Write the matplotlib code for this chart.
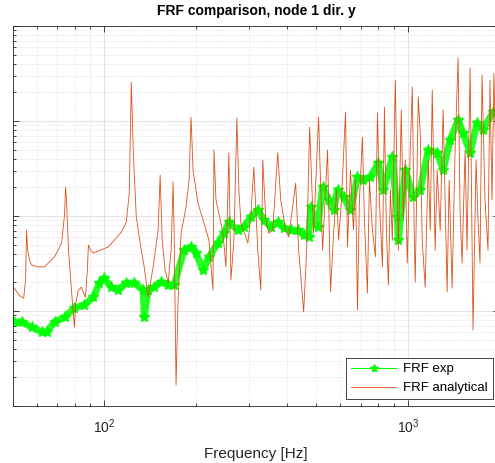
import numpy as np
import matplotlib
matplotlib.use("Agg")
import matplotlib.pyplot as plt
from matplotlib.lines import Line2D
from matplotlib.ticker import LogLocator, NullFormatter

plt.rcParams['font.family'] = ['Liberation Sans', 'DejaVu Sans']

# measured FRF (Hz, dB re 1)
freq_exp = [50.2, 53.4, 57.6, 62.1, 64.5, 68.5, 73.9, 79.7, 85.9, 92.0,
            96.3, 100.0, 105.4, 111.2, 118.1, 125.5, 134.3, 135.3, 139.4, 145.9,
            153.9, 162.3, 169.8, 183.1, 193.1, 200.5, 211.4, 221.2, 236.8, 247.8,
            257.3, 275.5, 288.3, 304.0, 320.4, 335.4, 353.5, 372.7, 390.0, 411.2,
            433.6, 453.8, 471.3, 478.5, 504.5, 523.9, 548.3, 569.4, 586.9, 614.1,
            647.5, 682.7, 714.4, 753.2, 800.1, 830.9, 889.5, 923.8, 930.8, 981.3,
            1042, 1099, 1168, 1250, 1308, 1379, 1465, 1521, 1605, 1692,
            1770, 1909]
db_exp = [-102.3, -102.3, -103.4, -104.4, -104.4, -102.3, -101.3, -99.4, -98.7, -97.1,
          -94.1, -93.1, -95.0, -95.6, -94.1, -94.1, -95.6, -101.3, -95.6, -95.0,
          -93.9, -94.5, -94.5, -87.2, -86.5, -87.8, -91.4, -88.6, -85.7, -83.6,
          -81.3, -83.0, -82.3, -80.2, -78.7, -80.8, -82.3, -81.3, -82.5, -83.0,
          -83.0, -84.0, -84.4, -78.1, -82.3, -73.9, -76.6, -78.7, -74.5, -76.0,
          -78.7, -71.8, -72.4, -71.8, -68.8, -74.5, -67.6, -80.2, -85.1, -70.3,
          -76.0, -74.5, -66.1, -66.7, -70.3, -64.0, -59.8, -62.5, -66.7, -60.4,
          -61.9, -58.1]

# analytical FRF from the model (Hz, dB re 1)
freq_ana = [50.2, 52.6, 54.2, 55.0, 55.4, 55.9, 56.7, 57.6, 60.3, 63.5,
            68.5, 72.3, 73.9, 74.5, 75.0, 76.2, 77.9, 79.7, 80.3, 82.1,
            84.0, 86.6, 87.9, 88.6, 90.0, 92.0, 103.1, 113.7, 118.1, 120.8,
            122.7, 124.5, 127.4, 132.3, 135.3, 139.4, 144.8, 150.4, 152.7, 155.1,
            158.6, 162.3, 166.0, 168.5, 169.8, 172.3, 175.0, 179.0, 185.9, 190.2,
            193.1, 196.0, 203.5, 213.0, 221.2, 228.0, 229.8, 233.3, 246.0, 251.6,
            257.3, 261.3, 267.3, 273.4, 277.6, 281.8, 297.1, 304.0, 310.8, 320.4,
            327.8, 332.8, 340.4, 348.2, 358.9, 372.7, 381.3, 396.0, 405.1, 427.1,
            436.9, 453.8, 464.2, 474.8, 489.3, 508.2, 523.9, 544.0, 556.5, 569.4,
            582.5, 591.3, 604.9, 623.4, 632.9, 647.5, 662.2, 672.3, 682.7, 692.9,
            708.9, 719.7, 736.2, 747.5, 764.7, 782.3, 794.3, 806.4, 824.9, 837.5,
            850.3, 863.2, 876.4, 889.5, 909.7, 930.8, 951.9, 966.5, 981.3, 996.1,
            1019, 1035, 1050, 1058, 1083, 1099, 1116, 1141, 1168, 1186,
            1204, 1231, 1250, 1279, 1308, 1328, 1348, 1369, 1400, 1432,
            1465, 1487, 1510, 1545, 1568, 1605, 1641, 1679, 1704, 1730,
            1757, 1797, 1838, 1866, 1895, 1923, 1968, 1998]
db_ana = [-95.0, -96.8, -97.3, -93.5, -83.0, -87.2, -89.3, -90.3, -90.7, -90.7,
          -88.6, -85.7, -79.8, -73.9, -76.6, -87.2, -95.6, -103.4, -98.7, -95.6,
          -95.0, -97.1, -91.4, -86.1, -87.2, -87.8, -86.5, -83.4, -81.3, -75.2,
          -51.8, -66.1, -80.2, -87.2, -90.7, -97.1, -90.7, -83.0, -71.4, -85.1,
          -91.4, -94.1, -87.2, -72.8, -83.0, -115.6, -97.7, -83.6, -78.1, -72.4,
          -59.2, -70.3, -77.3, -81.5, -85.1, -95.6, -66.1, -76.6, -83.6, -90.7,
          -66.7, -93.5, -85.1, -59.4, -74.5, -81.5, -85.7, -79.8, -69.7, -87.2,
          -95.6, -68.2, -80.8, -83.6, -83.0, -66.7, -76.6, -83.0, -84.4, -73.1,
          -87.2, -100.2, -87.2, -61.3, -83.6, -59.2, -87.2, -66.1, -96.0, -83.6,
          -74.5, -85.1, -76.6, -58.1, -86.5, -70.3, -83.0, -72.4, -99.8, -76.6,
          -63.4, -80.8, -96.2, -72.4, -83.0, -88.6, -58.3, -76.6, -90.7, -57.1,
          -83.0, -94.5, -74.5, -85.1, -51.4, -87.2, -57.7, -80.8, -68.2, -89.9,
          -66.1, -52.8, -83.0, -93.9, -54.9, -62.5, -85.1, -95.0, -68.2, -83.0,
          -53.5, -87.2, -70.3, -83.0, -57.7, -76.6, -96.0, -72.4, -95.2, -66.1,
          -46.7, -78.7, -89.9, -66.1, -87.2, -48.8, -104.0, -68.2, -80.8, -89.9,
          -50.3, -76.6, -87.2, -51.4, -76.6, -49.9, -80.8, -66.1]

mag_exp = 10 ** (np.array(db_exp) / 20)
mag_ana = 10 ** (np.array(db_ana) / 20)

green = '#00FF00'
orange = '#D95319'

fig = plt.figure(figsize=(4.95, 4.63), dpi=100)
ax = fig.add_axes([0.0263, 0.1231, 0.982, 0.8207])

# measurement is dense, so it reads as a thick band of star markers
ax.loglog(freq_exp, mag_exp, color=green, linewidth=5, solid_capstyle='round',
          solid_joinstyle='round', alpha=0.85)
ax.loglog(freq_exp, mag_exp, color=green, linestyle='none', marker='*', markersize=8)
ax.loglog(freq_ana, mag_ana, color=orange, linewidth=0.6)

ax.set_xlim(50, 2000)
ax.set_ylim(1e-6, 1e-2)

ax.xaxis.set_major_locator(LogLocator(base=10))
ax.xaxis.set_minor_locator(LogLocator(base=10, subs=np.arange(2, 10)))
ax.xaxis.set_minor_formatter(NullFormatter())
ax.yaxis.set_minor_locator(LogLocator(base=10, subs=np.arange(2, 10)))
ax.yaxis.set_minor_formatter(NullFormatter())

ax.grid(True, which='major', color='#262626', alpha=0.15, linewidth=0.6)
ax.grid(True, which='minor', color='#262626', alpha=0.2, linewidth=0.5, linestyle=':')
ax.tick_params(which='both', direction='in', top=True, right=True, colors='#262626',
               labelsize=10, width=0.6, labelleft=False, pad=8)
ax.tick_params(which='major', length=4)
ax.tick_params(which='minor', length=2)
for s in ax.spines.values():
    s.set_color('#262626')
    s.set_linewidth(0.6)

ax.set_title('FRF comparison, node 1 dir. y', fontsize=10, fontweight='bold', pad=8)
ax.set_xlabel('Frequency [Hz]', fontsize=11, color='#262626', labelpad=8)

handles = [Line2D([], [], color=green, linewidth=0.8, marker='*', markersize=6),
           Line2D([], [], color=orange, linewidth=0.6)]
leg = ax.legend(handles, ['FRF exp', 'FRF analytical'], loc='lower right',
                fontsize=9.5, fancybox=False, framealpha=1, edgecolor='#262626',
                borderaxespad=0.5, handlelength=3.4, handletextpad=0.5)
leg.get_frame().set_linewidth(0.6)

fig.savefig('out.png', dpi=100)
